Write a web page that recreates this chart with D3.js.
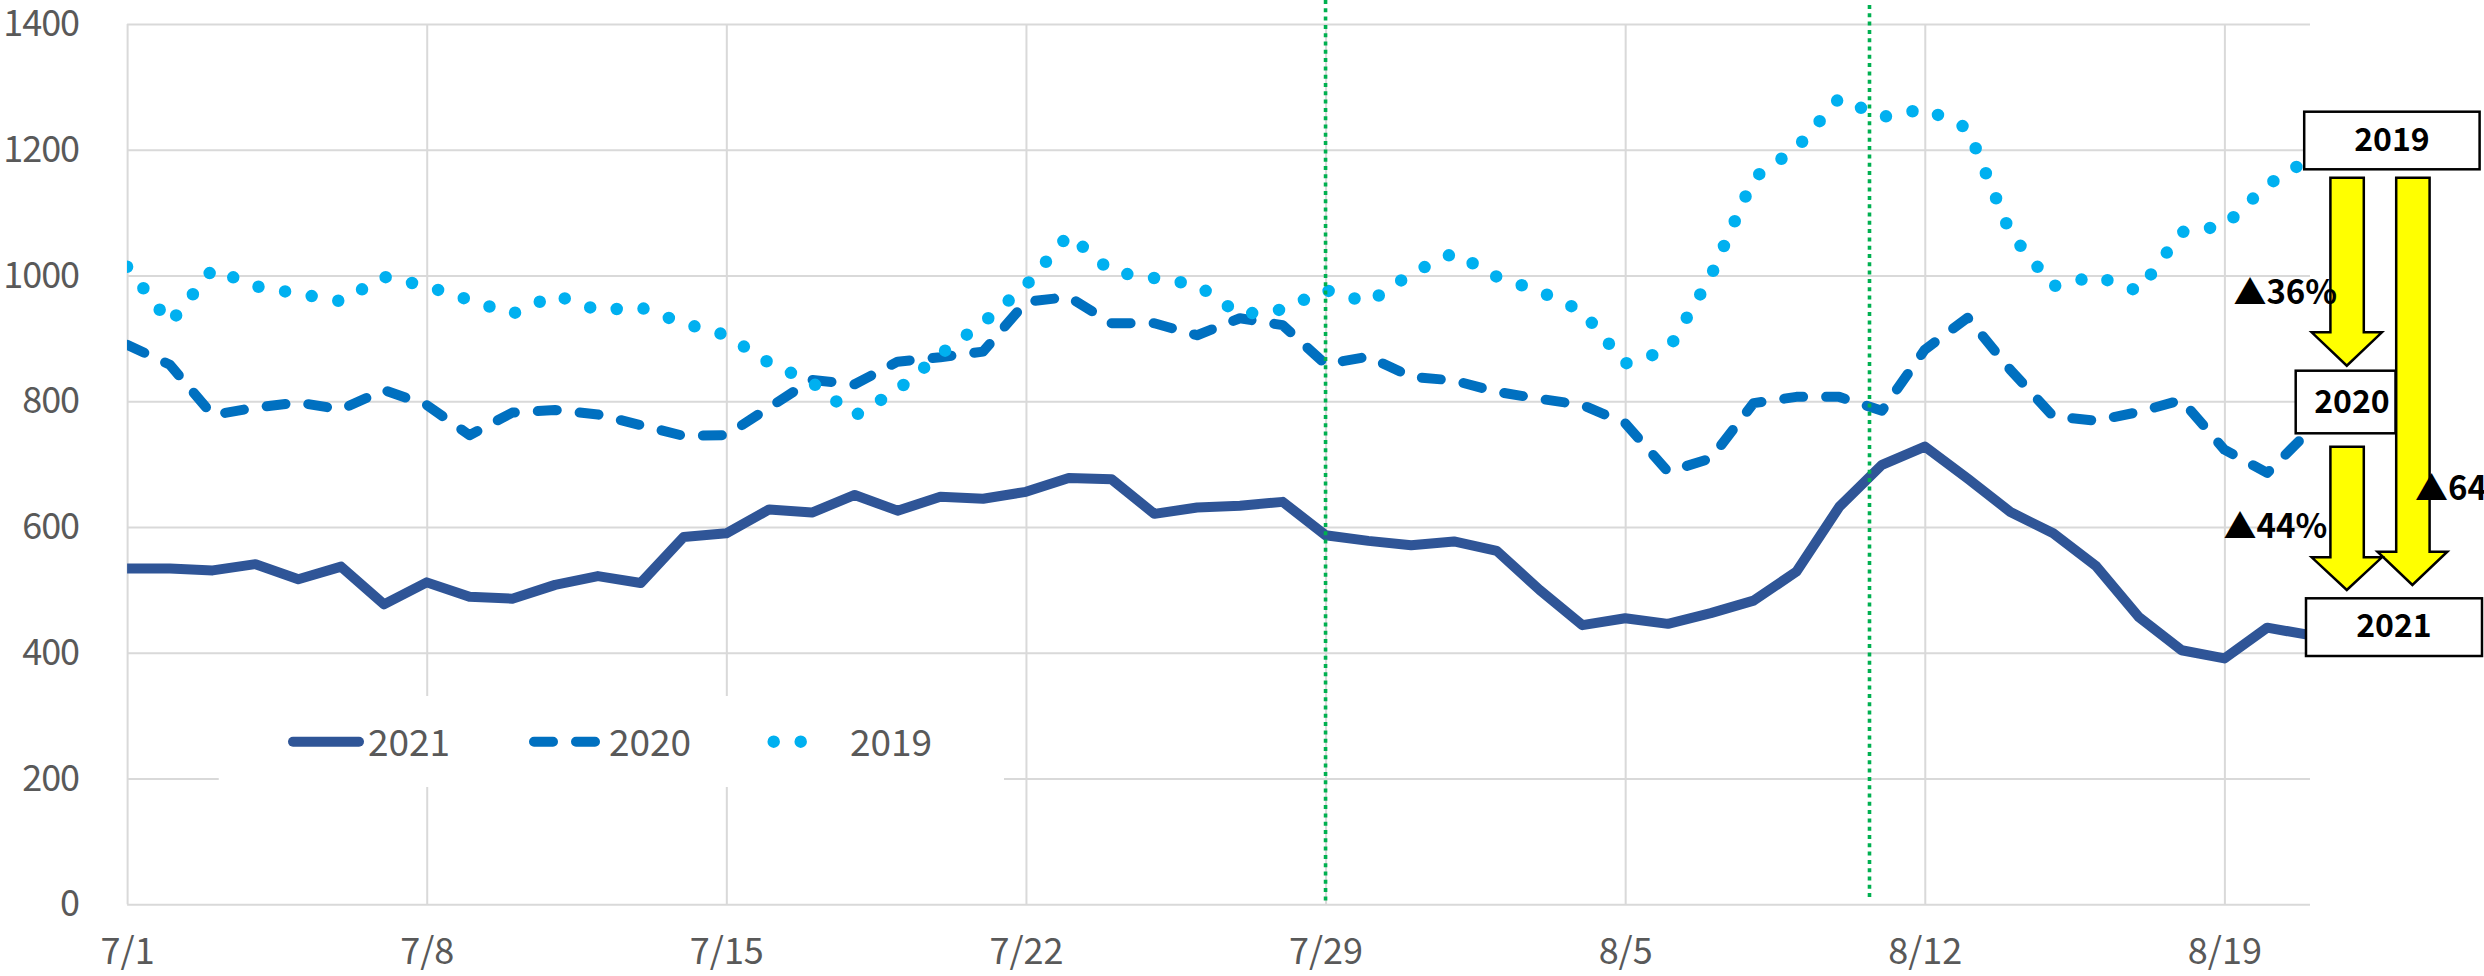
<!DOCTYPE html>
<html>
<head>
<meta charset="utf-8">
<script src="https://cdn.jsdelivr.net/npm/d3@7"></script>
<style>
  body { margin: 0; background: #fff; }
  svg text { font-family: "Noto Sans CJK JP", "Noto Sans", sans-serif; }
</style>
</head>
<body>
<div class="container"></div>
<script>
/* ===== DATA ===== */
var startDay = new Date(2021, 6, 1);   // 7/1
var yTicks = [0, 200, 400, 600, 800, 1000, 1200, 1400];
var xTickDays = [0, 7, 14, 21, 28, 35, 42, 49];   // 7/1 ... 8/19
var seriesNames = ["2021", "2020", "2019"];

var values2021 = [534, 534, 531, 541, 517, 537, 477, 512, 489, 486, 508, 522, 511, 584, 590, 628, 623, 651, 626, 648,
                  645, 656, 678, 676, 621, 631, 634, 640, 587, 578, 571, 577, 562, 500, 444, 455, 446, 463, 483, 529,
                  632, 699, 728, 677, 624, 590, 538, 457, 404, 391, 440, 428];
var values2020 = [890, 858, 778, 790, 798, 787, 818, 794, 746, 782, 786, 779, 762, 745, 746, 790, 834, 827, 863, 870,
                  879, 958, 966, 924, 924, 905, 932, 921, 859, 871, 839, 833, 815, 804, 794, 765, 688, 709, 797, 807,
                  807, 785, 882, 933, 850, 776, 769, 783, 802, 723, 686, 754];
var values2019 = [1014, 924, 1010, 983, 971, 959, 998, 983, 961, 939, 969, 945, 949, 924, 905, 861, 830, 777, 818, 875,
                  925, 984, 1065, 1006, 996, 985, 938, 946, 977, 957, 1003, 1036, 998, 975, 943, 860, 881, 999, 1155, 1202,
                  1282, 1252, 1265, 1234, 1067, 983, 999, 975, 1069, 1079, 1144, 1186];

// green dotted marker lines (day offsets from 7/1)
var markerDays = [28, 40.73];

// comparison notes on the right
var changeLabels = ["▲36%", "▲44%", "▲64%"];

buildChart();

function buildChart() {

  /* ===== SET UP CHART =====*/
  var w = 2484, h = 976;
  var plot = {left: 127.1, right: 2310, top: 24, bottom: 904.3};

  var dates = values2021.map(function(d, i) { return d3.timeDay.offset(startDay, i); });

  var xScale = d3.scaleTime()
    .domain([dates[0], dates[dates.length - 1]])
    .range([plot.left, plot.right]);

  var yScale = d3.scaleLinear()
    .domain([0, 1400])
    .range([plot.bottom, plot.top]);

  var svg = d3.select('.container')
    .append('svg')
    .attr('width', w)
    .attr('height', h);

  svg.append('defs').append('clipPath')
    .attr('id', 'plotClip')
    .append('rect')
    .attr('x', plot.left)
    .attr('y', 0)
    .attr('width', plot.right - plot.left)
    .attr('height', h);

  /* ===== GRID + AXES ===== */
  var yAxis = d3.axisLeft(yScale)
    .tickValues(yTicks)
    .tickFormat(d3.format('d'))
    .tickSize(-(plot.right - plot.left))
    .tickPadding(48);

  var gy = svg.append('g')
    .attr('transform', 'translate(' + plot.left + ',0)')
    .call(yAxis);

  var xAxis = d3.axisBottom(xScale)
    .tickValues(xTickDays.map(function(d) { return d3.timeDay.offset(startDay, d); }))
    .tickFormat(d3.timeFormat('%-m/%-d'))
    .tickSize(-(plot.bottom - plot.top))
    .tickPadding(34);

  var gx = svg.append('g')
    .attr('transform', 'translate(0,' + plot.bottom + ')')
    .call(xAxis);

  [gx, gy].forEach(function(g) {
    g.select('.domain').remove();
    g.selectAll('line').attr('stroke', '#D9D9D9').attr('stroke-width', 2);
    g.selectAll('text')
      .attr('fill', '#595959')
      .style('font-size', '36px');
  });
  gy.selectAll('text').style('letter-spacing', '-1px');

  /* ===== LEGEND (white box inside the plot) ===== */
  var legend = svg.append('g');
  legend.append('rect')
    .attr('x', 218.75).attr('y', 696)
    .attr('width', 1004 - 218.75).attr('height', 91)
    .attr('fill', '#fff');

  /* ===== SERIES ===== */
  var line = d3.line()
    .x(function(d, i) { return xScale(dates[i]); })
    .y(function(d) { return yScale(d); });

  var styles = {
    "2021": {color: '#2F5597', width: 10, dash: null, cap: 'butt'},
    "2020": {color: '#0070C0', width: 10, dash: '19 23', cap: 'round'},
    "2019": {color: '#00B0F0', width: 12.5, dash: '0 27', cap: 'round'}
  };
  var seriesData = {"2021": values2021, "2020": values2020, "2019": values2019};

  var lines = svg.append('g').attr('clip-path', 'url(#plotClip)');
  seriesNames.forEach(function(name) {
    var s = styles[name];
    lines.append('path')
      .datum(seriesData[name])
      .attr('d', line)
      .attr('fill', 'none')
      .attr('stroke', s.color)
      .attr('stroke-width', s.width)
      .attr('stroke-linejoin', 'round')
      .attr('stroke-linecap', s.cap)
      .attr('stroke-dasharray', s.dash);
  });

  // legend entries
  var legendItems = [
    {name: "2021", x0: 293, x1: 359, tx: 368},
    {name: "2020", x0: 534, x1: 595.4, tx: 609},
    {name: "2019", x0: 773.7, x1: 827.7, tx: 850}
  ];
  legendItems.forEach(function(it) {
    var s = styles[it.name];
    legend.append('line')
      .attr('x1', it.x0).attr('x2', it.x1)
      .attr('y1', 741.7).attr('y2', 741.7)
      .attr('stroke', s.color)
      .attr('stroke-width', s.width)
      .attr('stroke-linecap', 'round')
      .attr('stroke-dasharray', s.dash);
    legend.append('text')
      .attr('x', it.tx).attr('y', 755.5)
      .attr('fill', '#595959')
      .style('font-size', '37px')
      .text(it.name);
  });

  /* ===== GREEN MARKER LINES ===== */
  var markerTops = [0, 5], markerBottoms = [902, 898];
  markerDays.forEach(function(d, i) {
    var mx = xScale(d3.timeHour.offset(startDay, d * 24));
    svg.append('line')
      .attr('x1', mx).attr('x2', mx)
      .attr('y1', markerTops[i]).attr('y2', markerBottoms[i])
      .attr('stroke', '#00B050')
      .attr('stroke-width', 3.6)
      .attr('stroke-dasharray', '4 4.3');
  });

  /* ===== ANNOTATIONS ===== */
  var ann = svg.append('g');

  function downArrow(xl, xr, yTop, yNeck, hx0, hx1, yTip) {
    var cx = (hx0 + hx1) / 2;
    var pts = [[xl, yTop], [xr, yTop], [xr, yNeck], [hx1, yNeck], [cx, yTip],
               [hx0, yNeck], [xl, yNeck]];
    ann.append('polygon')
      .attr('points', pts.map(function(p) { return p.join(','); }).join(' '))
      .attr('fill', '#FFFF00')
      .attr('stroke', '#000')
      .attr('stroke-width', 2.5)
      .attr('stroke-linejoin', 'miter');
  }

  downArrow(2330.4, 2363.8, 177.7, 332.3, 2311.7, 2381.9, 365.7);
  downArrow(2396.2, 2429.6, 177.7, 551.7, 2377.5, 2447.3, 585);
  downArrow(2330.4, 2363.8, 446.7, 557.3, 2311.7, 2381.9, 590);

  var boxes = [
    {name: "2019", x: 2304.2, y: 111.7, w: 175.4, h: 57.6, tx: 2392, ty: 150.7},
    {name: "2020", x: 2295.7, y: 370.7, w: 99.8, h: 62.6, tx: 2352, ty: 413.3},
    {name: "2021", x: 2306, y: 598.3, w: 176, h: 57.7, tx: 2394, ty: 636.7}
  ];
  boxes.forEach(function(b) {
    ann.append('rect')
      .attr('x', b.x).attr('y', b.y)
      .attr('width', b.w).attr('height', b.h)
      .attr('fill', '#fff')
      .attr('stroke', '#000')
      .attr('stroke-width', 2.5);
    ann.append('text')
      .attr('x', b.tx).attr('y', b.ty)
      .attr('text-anchor', 'middle')
      .attr('fill', '#000')
      .style('font-size', '32px')
      .style('font-weight', 'bold')
      .text(b.name);
  });

  var labelPos = [[2233.4, 304], [2223.5, 538.3], [2415, 500]];
  changeLabels.forEach(function(t, i) {
    ann.append('text')
      .attr('x', labelPos[i][0]).attr('y', labelPos[i][1])
      .attr('fill', '#000')
      .style('font-size', '33px')
      .style('font-weight', 'bold')
      .text(t);
  });
}
</script>
</body>
</html>
